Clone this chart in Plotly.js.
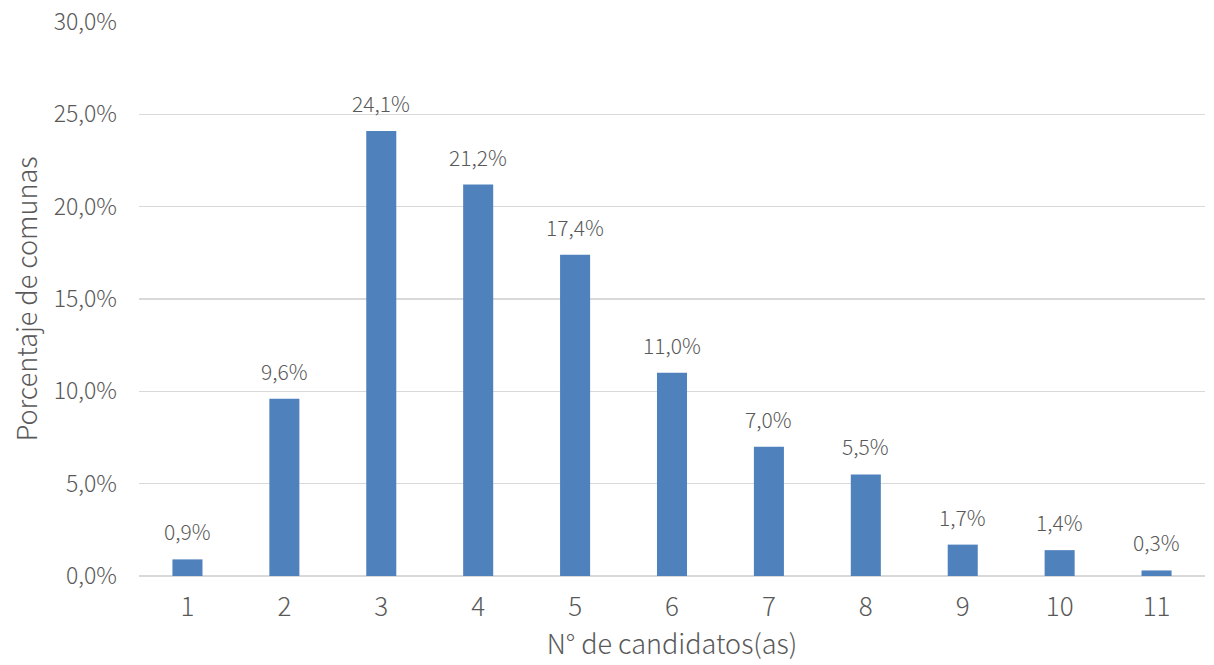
<!DOCTYPE html>
<html>
<head>
<meta charset="utf-8">
<script src="https://cdn.plot.ly/plotly-3.0.1.min.js"></script>
<style>body{margin:0;padding:0;background:#fff;}#chart{width:1214px;height:665px;}</style>
</head>
<body>
<div id="chart"></div>
<script>
const categories = ['1','2','3','4','5','6','7','8','9','10','11'];
const percentages = [0.9, 9.6, 24.1, 21.2, 17.4, 11.0, 7.0, 5.5, 1.7, 1.4, 0.3];
const yTickValues = [0, 5, 10, 15, 20, 25, 30];

const FONT = '"Noto Sans CJK SC", "Noto Sans", sans-serif';
const GREY = '#595959';
const W = 300;
const fmt = v => v.toFixed(1).replace('.', ',') + '%';

const trace = {
  type: 'bar',
  x: categories,
  y: percentages,
  marker: {color: '#4F81BD'},
  width: 0.31,
  hoverinfo: 'skip'
};

const annotations = categories.map((c, i) => ({
  x: i, y: percentages[i], xref: 'x', yref: 'y',
  text: fmt(percentages[i]), showarrow: false,
  yanchor: 'middle', yshift: 28,
  font: {family: FONT, size: 21, color: GREY, weight: W}
}));

const layout = {
  width: 1214, height: 665,
  margin: {l: 139, r: 9, t: 22, b: 89},
  paper_bgcolor: '#fff', plot_bgcolor: '#fff',
  showlegend: false,
  font: {family: FONT, color: GREY},
  xaxis: {
    type: 'category',
    range: [-0.5, 10.5],
    showgrid: false, zeroline: false,
    showline: false,
    ticks: '',
    tickfont: {family: FONT, size: 26, color: GREY, weight: W},
    ticklabelstandoff: 13,
    title: {text: 'N° de candidatos(as)', font: {family: FONT, size: 27, color: GREY, weight: W}, standoff: 9}
  },
  yaxis: {
    range: [0, 30],
    tickvals: yTickValues,
    ticktext: yTickValues.map(v => v.toFixed(1).replace('.', ',') + '%'),
    showgrid: true, gridcolor: '#d9d9d9', gridwidth: 1.5,
    zeroline: true, zerolinecolor: '#d9d9d9', zerolinewidth: 2,
    showline: false, ticks: '',
    tickfont: {family: FONT, size: 23, color: GREY, weight: W},
    ticklabelstandoff: 21,
    title: {text: 'Porcentaje de comunas', font: {family: FONT, size: 27, color: GREY, weight: W}, standoff: 8}
  },
  annotations: annotations
};

Plotly.newPlot('chart', [trace], layout, {displayModeBar: false, staticPlot: true});
</script>
</body>
</html>
